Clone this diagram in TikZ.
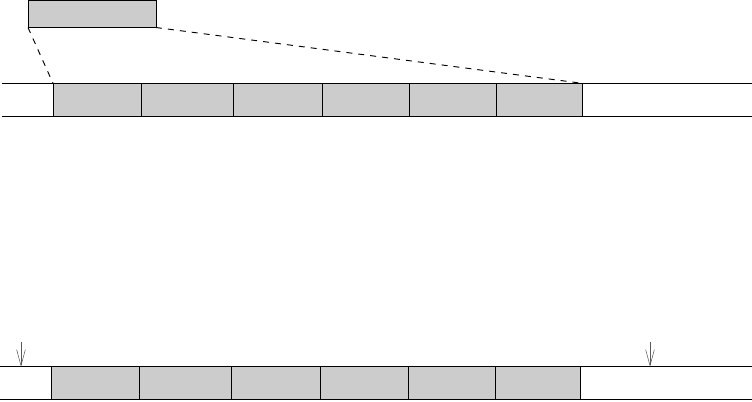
\documentclass[tikz,border=0pt]{standalone}
\usetikzlibrary{arrows.meta}

\begin{document}
\begin{tikzpicture}[x=0.75pt,y=-0.75pt,line width=0.7pt,
  cell/.style={draw,fill=gray!40,inner sep=0pt,outer sep=0pt,anchor=north west,minimum height=24.75pt},
  pointer/.style={draw=gray!70!black,line width=0.4pt,-{Straight Barb[length=12pt,width=6.5pt]}}]
\useasboundingbox (0,0) rectangle (752,401);
% block that is copied into the upper row
\node[cell,minimum width=96pt,minimum height=20.25pt] (blk) at (28,0.5) {};
% upper row
\foreach \a/\b [count=\i] in {53/141.7,141.7/233.3,233.3/322.5,322.5/409.3,409.3/496,496/582}
  \node[cell,minimum width={(\b-\a)*0.75pt}] (t\i) at (\a,83.3) {};
\draw (2,83.3) -- (752,83.3);
\draw (2,116.3) -- (752,116.3);
\draw[dash pattern=on 4.5pt off 4.5pt] (blk.south west) -- (t1.north west);
\draw[dash pattern=on 4.5pt off 4.5pt] (blk.south east) -- (t6.north east);
% lower row
\foreach \a/\b [count=\i] in {51/139.3,139.3/231.3,231.3/320.5,320.5/408.3,408.3/495.3,495.3/580}
  \node[cell,minimum width={(\b-\a)*0.75pt}] (b\i) at (\a,366.7) {};
\draw (0,366.7) -- (752,366.7);
\draw (0,399.6) -- (752,399.6);
\coordinate (p1) at (21,342);
\coordinate (p2) at (650,342);
\draw[pointer] (p1) -- (p1 |- b1.north);
\draw[pointer] (p2) -- (p2 |- b6.north);
\end{tikzpicture}
\end{document}
